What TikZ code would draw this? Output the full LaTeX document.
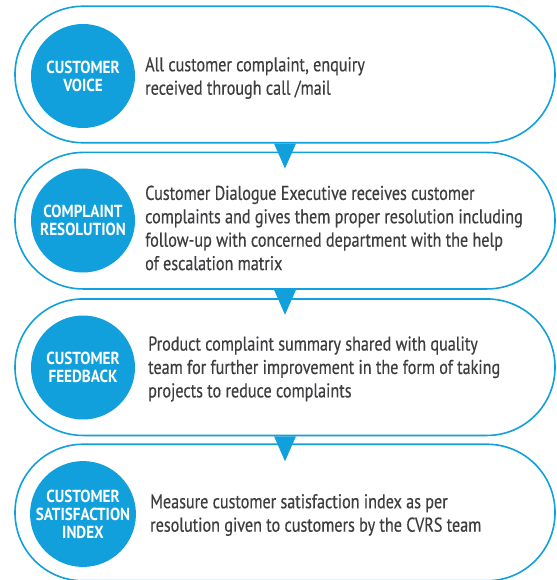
\documentclass[tikz,border=0pt]{standalone}
\usepackage{fontspec}
\setmainfont{PT Sans}[FakeStretch=0.81, FakeBold=0.4]
\newfontfamily\discfont{PT Sans}[FakeStretch=0.87]
\usetikzlibrary{calc}
\definecolor{cvblue}{RGB}{17,160,219}
\definecolor{cvtext}{RGB}{62,62,64}
\begin{document}
\begin{tikzpicture}[x=1bp,y=-1bp,
  pill/.style={draw=cvblue, line width=1.6bp, fill=white, rounded corners=68bp,
    minimum width=540bp, minimum height=136.5bp, inner sep=0pt},
  disc/.style={circle, fill=cvblue, minimum size=104bp, inner sep=0pt,
    text=white, font=\discfont\fontsize{17.5}{18}\selectfont\bfseries, align=center},
  body/.style={anchor=west, text=cvtext, inner sep=0pt,
    font=\fontsize{20}{23.5}\selectfont, align=left},
  tri/.style={fill=cvblue}]
\useasboundingbox (0,0) rectangle (557,580);
\node[pill] (p1) at (285,74.5) {};
\node[pill] (p2) at (285,220.7) {};
\node[pill] (p3) at (285,367.2) {};
\node[pill] (p4) at (285,512.5) {};
\foreach \a/\b in {p1/p2,p2/p3,p3/p4}{
  \fill[tri] ($(\a.south)+(-11,0)$) -- ($(\a.south)+(11,0)$) -- ($(\a.south)+(0,25)$) -- cycle;
}
\node[disc] (c1) at (83,76) {CUSTOMER\\VOICE};
\node[disc] (c2) at (83,220.5) {COMPLAINT\\RESOLUTION};
\node[disc] (c3) at (83,367.5) {CUSTOMER\\FEEDBACK};
\node[disc] (c4) at (83,514) {CUSTOMER\\SATISFACTION\\INDEX};
\node[body] (t1) at (145,78) {All customer complaint, enquiry\\received through call /mail};
\node[body] (t2) at (145,228) {Customer Dialogue Executive receives customer\\complaints and gives them proper resolution including\\follow-up with concerned department with the help\\of escalation matrix};
\node[body] (t3) at (148,369) {Product complaint summary shared with quality\\team for further improvement in the form of taking\\projects to reduce complaints};
\node[body] (t4) at (150,515) {Measure customer satisfaction index as per\\resolution given to customers by the CVRS team};
\end{tikzpicture}
\end{document}
